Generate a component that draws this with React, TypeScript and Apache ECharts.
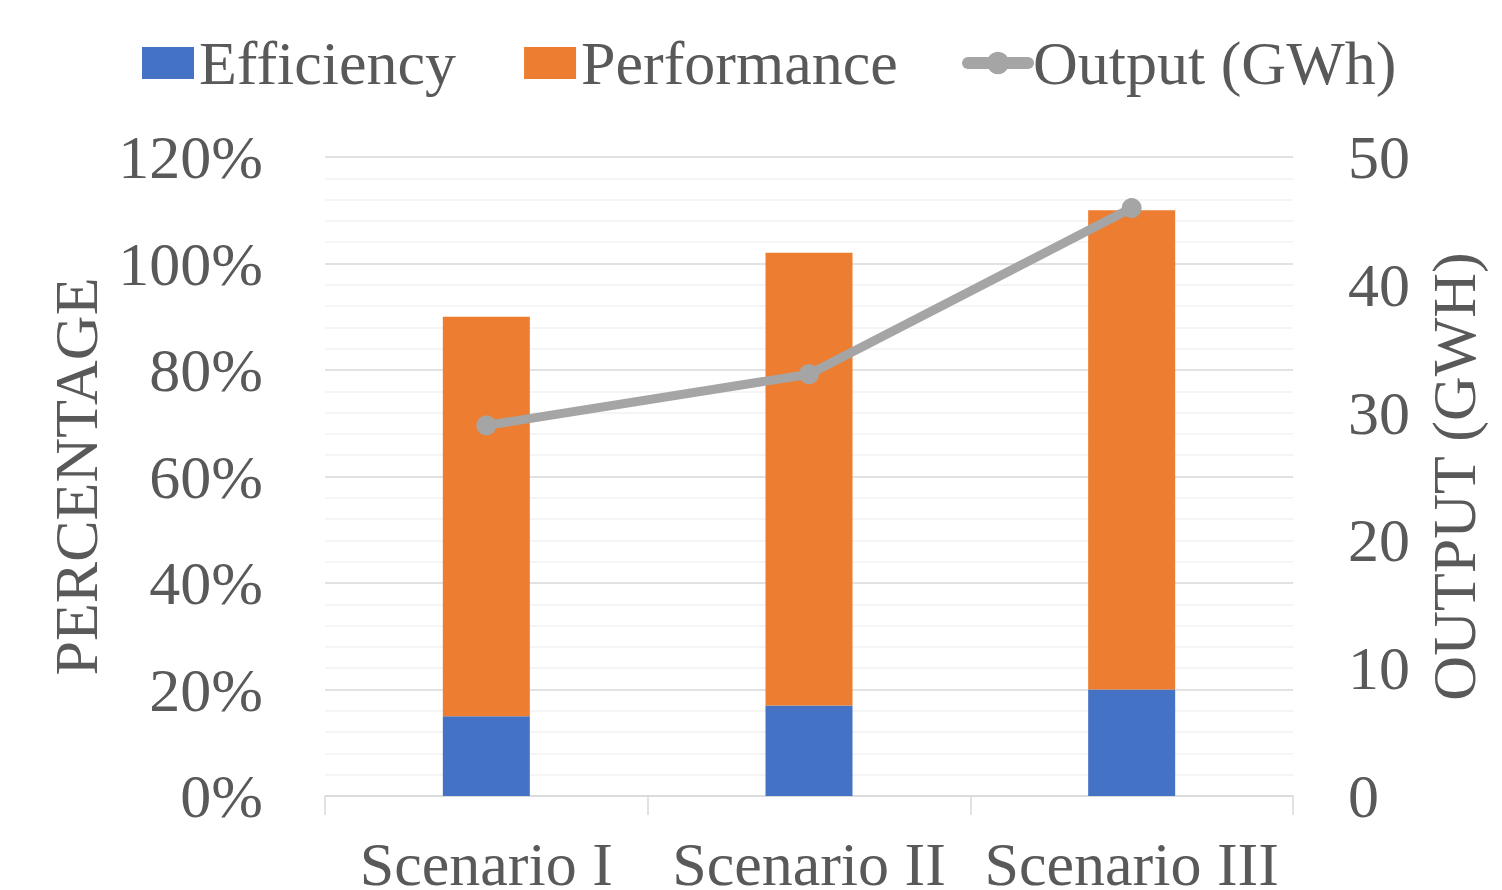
import React, { useEffect, useRef } from "react";
import * as echarts from "echarts";

const categories = ["Scenario I", "Scenario II", "Scenario III"];
const efficiency = [15, 17, 20];
const performance = [75, 85, 90];
const outputGWh = [29, 33, 46];
const leftTicks = { min: 0, max: 120, interval: 20 };
const rightTicks = { min: 0, max: 50, interval: 10 };

const FONT = "'Liberation Serif', 'Times New Roman', serif";
const TXT = "#595959";

export default function App() {
  const ref = useRef<HTMLDivElement>(null);
  useEffect(() => {
    if (!ref.current) return;
    const chart = echarts.init(ref.current, null, { renderer: "svg" });
    chart.setOption({
      animation: false,
      textStyle: { fontFamily: FONT },
      legend: [
        {
          data: ["Efficiency", "Performance"],
          left: 142,
          top: 32,
          padding: 0,
          itemWidth: 52,
          itemHeight: 32,
          itemGap: 68,
          icon: "rect",
          textStyle: { fontFamily: FONT, fontSize: 62, color: TXT },
        },
        {
          data: ["Output (GWh)"],
          left: 962,
          top: 32,
          padding: 0,
          itemWidth: 60,
          itemHeight: 28,
          lineStyle: { width: 12 },
          textStyle: { fontFamily: FONT, fontSize: 62, color: TXT },
        },
      ],
      grid: { left: 325, right: 209, top: 157, bottom: 94, containLabel: false, outerBoundsMode: "none" },
      xAxis: {
        type: "category",
        data: categories,
        boundaryGap: true,
        axisLine: { show: true, lineStyle: { color: "#d9d9d9", width: 1.5 } },
        axisTick: { show: true, length: 19, alignWithLabel: false, lineStyle: { color: "#d9d9d9", width: 1.5 } },
        axisLabel: { fontFamily: FONT, fontSize: 62, color: TXT, margin: 37, interval: 0 },
        splitLine: { show: false },
      },
      yAxis: [
        {
          type: "value",
          min: leftTicks.min,
          max: leftTicks.max,
          interval: leftTicks.interval,
          name: "PERCENTAGE",
          nameLocation: "middle",
          nameRotate: 90,
          nameGap: 211,
          nameTextStyle: { fontFamily: FONT, fontSize: 62, color: TXT },
          axisLine: { show: false },
          axisTick: { show: false },
          axisLabel: { fontFamily: FONT, fontSize: 62, color: TXT, margin: 62, formatter: "{value}%" },
          splitLine: { show: true, lineStyle: { color: "#d9d9d9", width: 1.5 } },
          minorTick: { show: false, splitNumber: 5 },
          minorSplitLine: { show: true, lineStyle: { color: "#f2f2f2", width: 1.5 } },
        },
        {
          type: "value",
          position: "right",
          min: rightTicks.min,
          max: rightTicks.max,
          interval: rightTicks.interval,
          name: "OUTPUT (GWH)",
          nameLocation: "middle",
          nameRotate: 90,
          nameGap: 130,
          nameTextStyle: { fontFamily: FONT, fontSize: 62, color: TXT },
          axisLine: { show: false },
          axisTick: { show: false },
          axisLabel: { fontFamily: FONT, fontSize: 62, color: TXT, margin: 55 },
          splitLine: { show: false },
        },
      ],
      series: [
        {
          name: "Efficiency",
          type: "bar",
          stack: "total",
          data: efficiency,
          barWidth: 87,
          itemStyle: { color: "#4472C4" },
          yAxisIndex: 0,
        },
        {
          name: "Performance",
          type: "bar",
          stack: "total",
          data: performance,
          barWidth: 87,
          itemStyle: { color: "#ED7D31" },
          yAxisIndex: 0,
        },
        {
          name: "Output (GWh)",
          type: "line",
          data: outputGWh,
          yAxisIndex: 1,
          symbol: "circle",
          symbolSize: 20,
          itemStyle: { color: "#A5A5A5" },
          lineStyle: { color: "#A5A5A5", width: 9, cap: "round", join: "round" },
          z: 5,
        },
      ],
    });
    return () => chart.dispose();
  }, []);
  return (
    <div
      ref={ref}
      style={{ position: "absolute", left: 0, top: 0, width: 1502, height: 890, background: "#fff" }}
    />
  );
}
